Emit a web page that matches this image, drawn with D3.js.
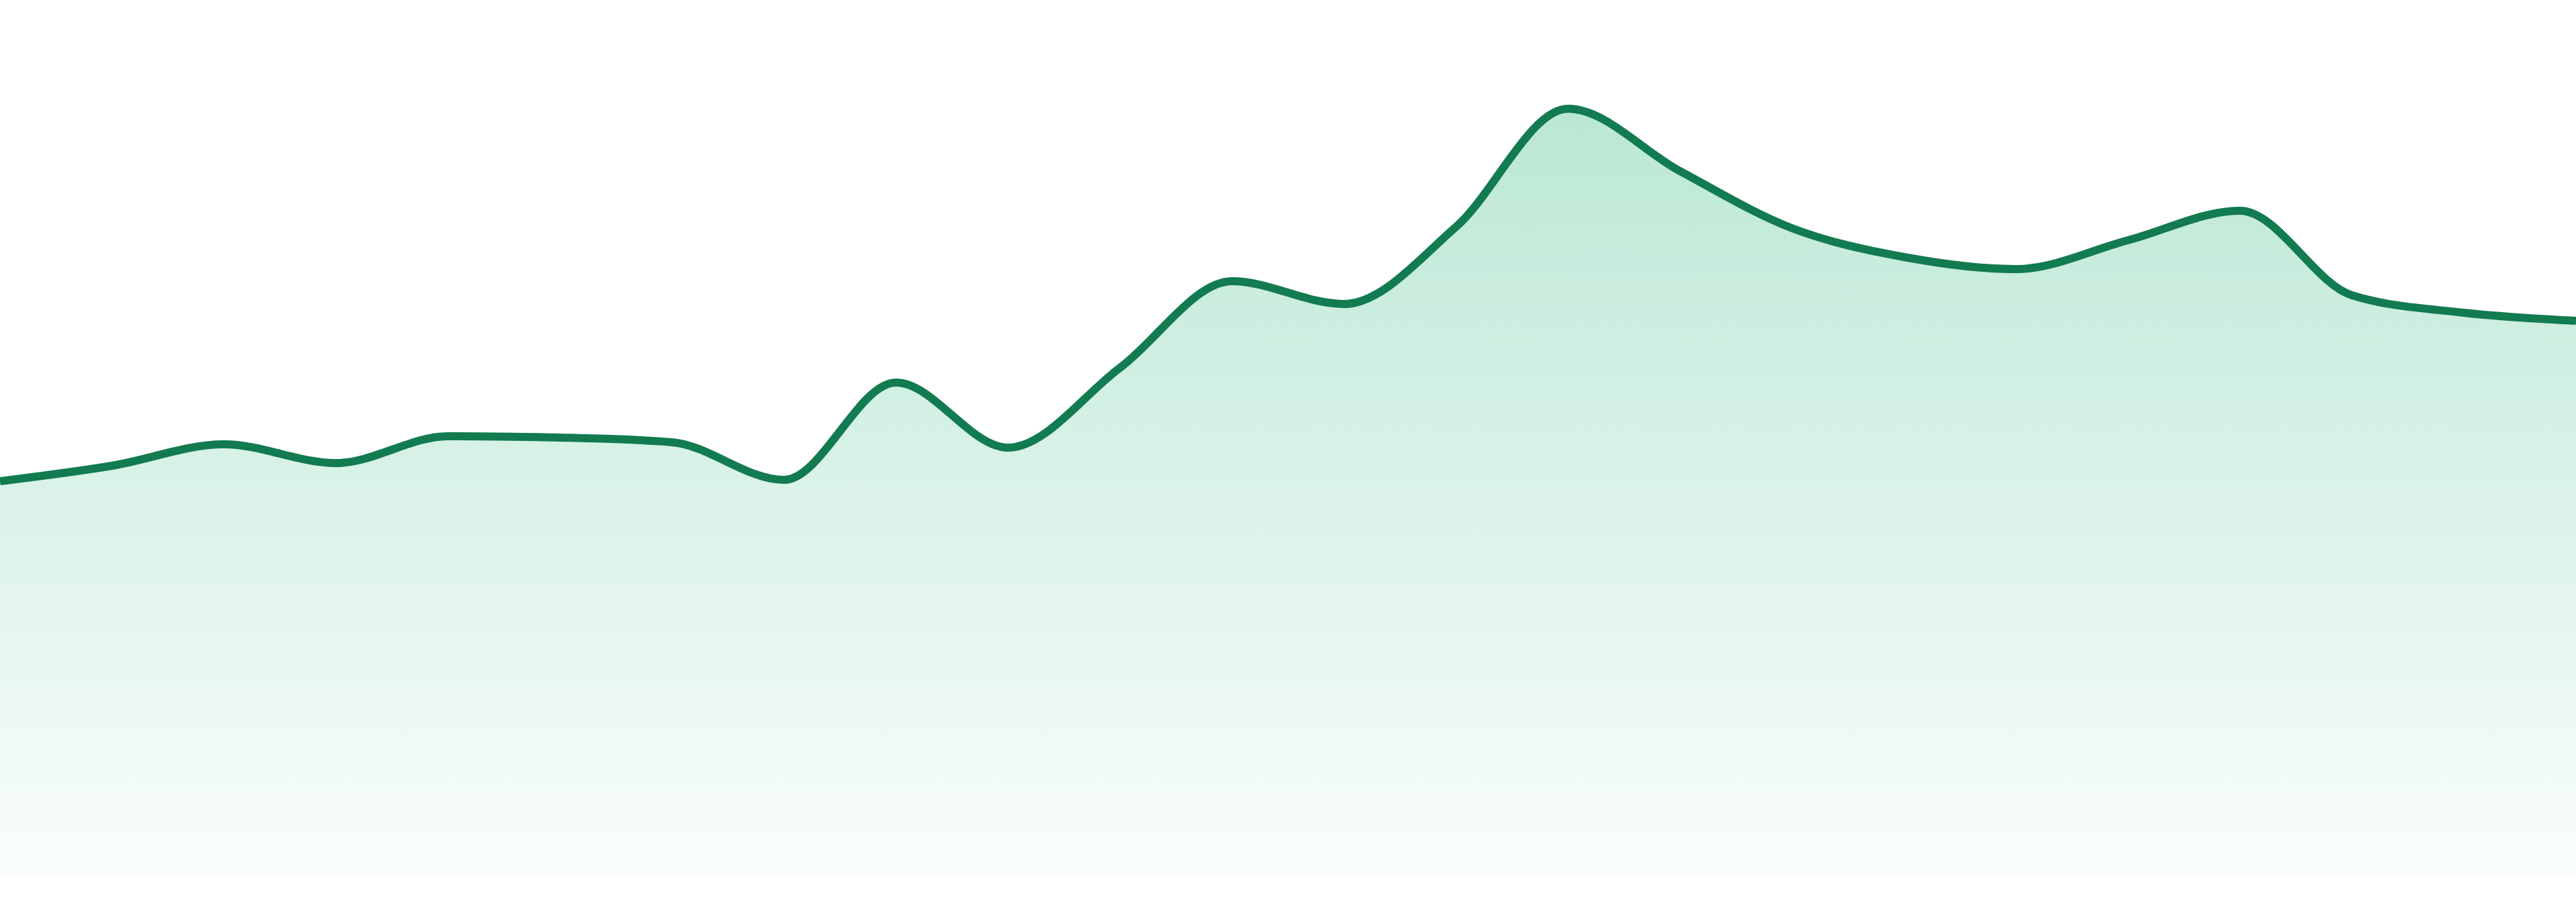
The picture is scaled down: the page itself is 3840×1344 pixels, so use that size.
<!DOCTYPE html>
<html>
<head>
<meta charset="utf-8">
<script src="https://cdnjs.cloudflare.com/ajax/libs/d3/7.8.5/d3.min.js"></script>
<style>
  html, body { margin: 0; padding: 0; background: #ffffff; }
  svg { display: block; }
</style>
</head>
<body>
<script>

// data (24 evenly spaced samples)
var steps = d3.range(0, 24);
var values = [587, 610, 642, 614, 654, 652, 645, 589, 734, 637, 756, 885,
              851, 966, 1142, 1049, 964, 921, 903, 946, 990, 864, 838, 826];

var w = 3840, h = 1344;
var base_y = 1304;

var svg = d3.select("body").append("svg")
            .attr("width", w)
            .attr("height", h);

var x = d3.scaleLinear().domain([0, steps.length - 1]).range([0, w]);
var y = d3.scaleLinear().domain([0, 1200]).range([base_y, base_y - 1200]);

// vertical fade for the area
var grad = svg.append("defs").append("linearGradient")
              .attr("id", "fade")
              .attr("gradientUnits", "userSpaceOnUse")
              .attr("x1", 0).attr("x2", 0)
              .attr("y1", y(d3.max(values))).attr("y2", base_y);
grad.append("stop").attr("offset", 0).attr("stop-color", "#13ad6d").attr("stop-opacity", 0.29);
grad.append("stop").attr("offset", 1).attr("stop-color", "#13ad6d").attr("stop-opacity", 0.02);

var area = d3.area()
             .x(function(d, i) { return x(steps[i]); })
             .y0(base_y)
             .y1(function(d) { return y(d); })
             .curve(d3.curveMonotoneX);

var line = d3.line()
             .x(function(d, i) { return x(steps[i]); })
             .y(function(d) { return y(d); })
             .curve(d3.curveMonotoneX);

svg.append("path").datum(values)
   .attr("d", area)
   .style("fill", "url(#fade)");

svg.append("path").datum(values)
   .attr("d", line)
   .style("fill", "none")
   .style("stroke", "#127b50")
   .style("stroke-width", 12)
   .style("stroke-linejoin", "round");

</script>
</body>
</html>
